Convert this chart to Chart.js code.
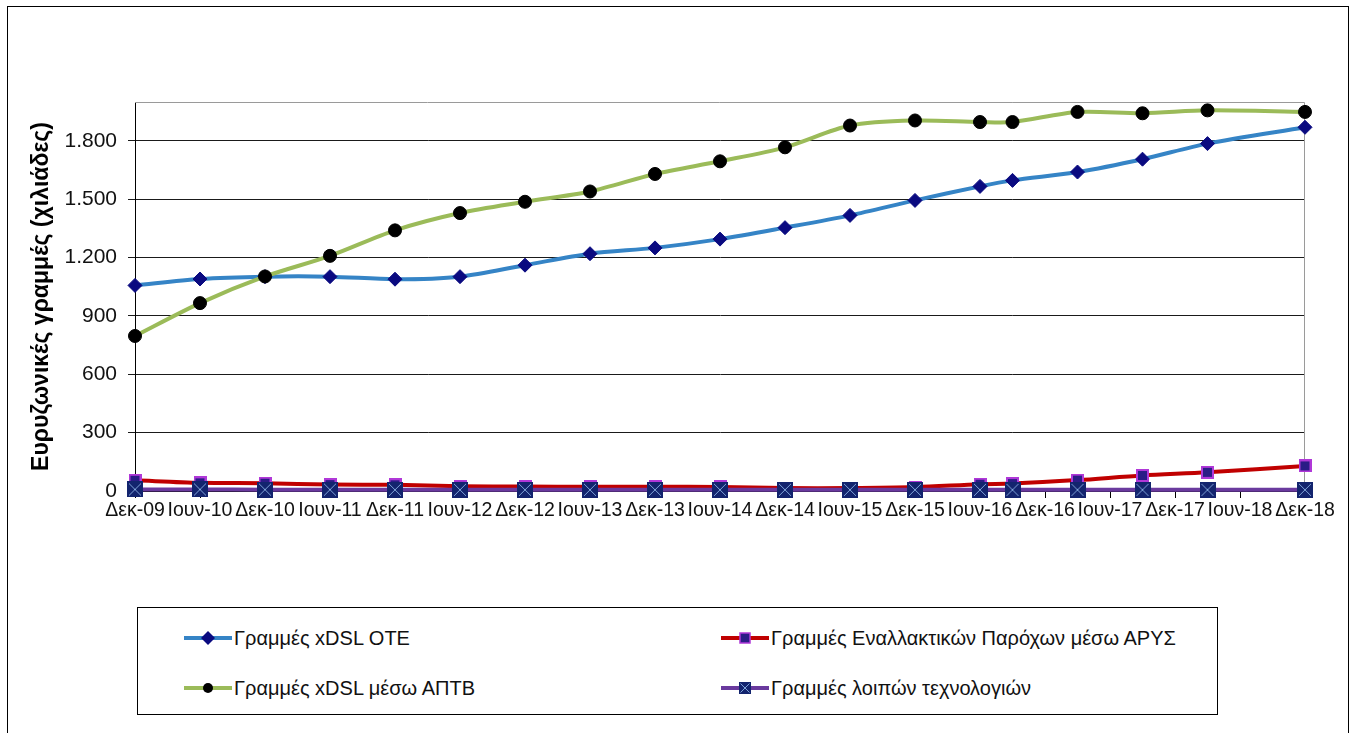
<!DOCTYPE html>
<html>
<head>
<meta charset="utf-8">
<script src="https://cdn.jsdelivr.net/npm/chart.js@4/dist/chart.umd.min.js"></script>
<style>
  html, body { margin: 0; padding: 0; background: #fff; }
  #wrap { position: relative; width: 1357px; height: 733px; overflow: hidden; font-family: "Liberation Sans", Arial, sans-serif; }
  #frame { position: absolute; left: 7px; top: 6px; width: 1342px; height: 760px; border: 1px solid #000; box-sizing: border-box; }
  #c { position: absolute; left: 0; top: 0; }
  #legend { position: absolute; left: 137px; top: 607px; width: 1081px; height: 108px; border: 1px solid #000; box-sizing: border-box; background: #fff; }
  .item { position: absolute; display: flex; align-items: center; height: 24px; font-size: 20px; color: #111; white-space: nowrap; }
  .item svg { margin-right: 2px; }
</style>
</head>
<body>
<div id="wrap">
  <div id="frame"></div>
  <canvas id="c" width="1357" height="733"></canvas>
  <div id="legend"></div>
</div>
<script>
// ---------- data ----------
const periods = ['Δεκ-09','Ιουν-10','Δεκ-10','Ιουν-11','Δεκ-11','Ιουν-12','Δεκ-12','Ιουν-13','Δεκ-13','Ιουν-14','Δεκ-14','Ιουν-15','Δεκ-15','Ιουν-16','Σεπ-16','Μαρ-17','Σεπ-17','Μαρ-18','Δεκ-18'];
const monthsFromStart = [0,6,12,18,24,30,36,42,48,54,60,66,72,78,81,87,93,99,108];
const tickLabels = ['Δεκ-09','Ιουν-10','Δεκ-10','Ιουν-11','Δεκ-11','Ιουν-12','Δεκ-12','Ιουν-13','Δεκ-13','Ιουν-14','Δεκ-14','Ιουν-15','Δεκ-15','Ιουν-16','Δεκ-16','Ιουν-17','Δεκ-17','Ιουν-18','Δεκ-18'];
const xdslOTE  = [1057,1090,1102,1102,1089,1102,1161,1220,1250,1295,1354,1417,1494,1566,1597,1640,1706,1786,1870];
const xdslAPTB = [797,966,1103,1209,1340,1429,1487,1540,1630,1695,1767,1879,1905,1897,1897,1949,1942,1957,1949];
const altARYS  = [55,42,40,33,32,24,23,22,22,21,15,15,20,35,38,56,80,96,129];
const otherTech = [8,8,7,7,6,6,6,6,6,6,6,6,6,6,6,6,6,6,6];
const seriesNames = ['Γραμμές xDSL OTE','Γραμμές Εναλλακτικών Παρόχων μέσω ΑΡΥΣ','Γραμμές xDSL μέσω ΑΠΤΒ','Γραμμές λοιπών τεχνολογιών'];
const yTitle = 'Ευρυζωνικές γραμμές (χιλιάδες)';

// ---------- marker images ----------
function squareMarker(size, fill, border, bw) {
  const c = document.createElement('canvas');
  c.width = size; c.height = size;
  const g = c.getContext('2d');
  g.fillStyle = border; g.fillRect(0, 0, size, size);
  g.fillStyle = fill; g.fillRect(bw, bw, size - 2*bw, size - 2*bw);
  return c;
}
function squareXMarker(size, fill, xcol) {
  const c = document.createElement('canvas');
  c.width = size; c.height = size;
  const g = c.getContext('2d');
  g.fillStyle = fill; g.fillRect(0, 0, size, size);
  g.strokeStyle = xcol; g.lineWidth = 1;
  g.beginPath();
  g.moveTo(2, 2); g.lineTo(size - 2, size - 2);
  g.moveTo(size - 2, 2); g.lineTo(2, size - 2);
  g.stroke();
  return c;
}
const arysMarker = squareMarker(13, '#2B1C86', '#B038D8', 2);
const otherMarker = squareXMarker(16, '#13246E', '#7FA3D8');

const pts = arr => arr.map((v, i) => ({ x: monthsFromStart[i], y: v }));
const fmt = v => String(v).replace(/\B(?=(\d{3})+(?!\d))/g, '.');

const plotBorder = {
  id: 'plotBorder',
  beforeDatasetsDraw(chart) {
    const a = chart.chartArea, ctx = chart.ctx;
    ctx.save();
    ctx.strokeStyle = '#9a9a9a';
    ctx.lineWidth = 1;
    ctx.beginPath();
    ctx.moveTo(a.left, a.top + 0.5);
    ctx.lineTo(a.right - 0.5, a.top + 0.5);
    ctx.lineTo(a.right - 0.5, a.bottom);
    ctx.stroke();
    ctx.restore();
  }
};

const FONT = '"Liberation Sans", Arial, sans-serif';

new Chart(document.getElementById('c'), {
  type: 'line',
  data: {
    datasets: [
      { label: seriesNames[0], data: pts(xdslOTE), borderColor: '#3584C6', borderWidth: 4,
        pointStyle: 'rectRot', pointRadius: 7, pointBackgroundColor: '#0A0A80', pointBorderColor: '#0A0A80', pointBorderWidth: 1, order: 3 },
      { label: seriesNames[1], data: pts(altARYS), borderColor: '#C00000', borderWidth: 4,
        pointStyle: arysMarker, pointRadius: 7, order: 2 },
      { label: seriesNames[2], data: pts(xdslAPTB), borderColor: '#9BBB59', borderWidth: 4,
        pointStyle: 'circle', pointRadius: 6.5, pointBackgroundColor: '#000', pointBorderColor: '#000', pointBorderWidth: 1, order: 1 },
      { label: seriesNames[3], data: pts(otherTech), borderColor: '#6A3A9E', borderWidth: 4,
        pointStyle: otherMarker, pointRadius: 8, order: 0 }
    ]
  },
  options: {
    responsive: false,
    animation: false,
    devicePixelRatio: 1,
    layout: { padding: { top: 102, right: 52, bottom: 212, left: 0 } },
    elements: { line: { tension: 0.3, fill: false } },
    datasets: { line: { clip: false } },
    plugins: { legend: { display: false }, tooltip: { enabled: false } },
    scales: {
      x: {
        type: 'linear', min: 0, max: 108,
        afterFit(s) { s.height = 30; s.paddingLeft = 0; s.paddingRight = 0; },
        grid: { display: true, drawOnChartArea: false, drawTicks: true, tickLength: 7, color: '#000' },
        border: { display: true, color: '#000', width: 1 },
        ticks: {
          stepSize: 6, autoSkip: false, maxRotation: 0, minRotation: 0, padding: 1,
          color: '#111', font: { family: FONT, size: 19.5 },
          callback: v => tickLabels[Math.round(v / 6)]
        }
      },
      y: {
        min: 0, max: 2000,
        afterFit(s) { s.width = 135; },
        grid: { color: '#1a1a1a', lineWidth: 1, tickLength: 7 },
        border: { display: true, color: '#000', width: 1 },
        ticks: {
          stepSize: 300, includeBounds: false, padding: 11,
          color: '#111', font: { family: FONT, size: 21 },
          callback: v => fmt(v)
        },
        title: {
          display: true, text: yTitle, color: '#000',
          font: { family: FONT, size: 23, weight: 'bold' },
          padding: { top: 28, bottom: 0 }
        }
      }
    }
  },
  plugins: [plotBorder]
});

// ---------- HTML legend ----------
const legendDefs = [
  { name: seriesNames[0], line: '#3584C6', marker: '<polygon points="24,3 31,10 24,17 17,10" fill="#0A0A80"/>', left: 46, top: 18 },
  { name: seriesNames[1], line: '#C00000', marker: '<rect x="19" y="5" width="10" height="10" fill="#2B1C86" stroke="#B038D8" stroke-width="1.5"/>', left: 583, top: 18 },
  { name: seriesNames[2], line: '#9BBB59', marker: '<circle cx="24" cy="10" r="5" fill="#000"/>', left: 46, top: 68 },
  { name: seriesNames[3], line: '#6A3A9E', marker: '<rect x="18" y="4" width="12" height="12" fill="#13246E"/><path d="M19.5 5.5 L28.5 14.5 M28.5 5.5 L19.5 14.5" stroke="#7FA3D8" stroke-width="1"/>', left: 583, top: 68 }
];
const leg = document.getElementById('legend');
legendDefs.forEach(d => {
  const el = document.createElement('div');
  el.className = 'item';
  el.style.left = d.left + 'px';
  el.style.top = d.top + 'px';
  el.innerHTML = '<svg width="48" height="20" viewBox="0 0 48 20"><line x1="0" y1="10" x2="48" y2="10" stroke="' + d.line + '" stroke-width="4"/>' + d.marker + '</svg>';
  const sp = document.createElement('span');
  sp.textContent = d.name;
  el.appendChild(sp);
  leg.appendChild(el);
});
</script>
</body>
</html>
